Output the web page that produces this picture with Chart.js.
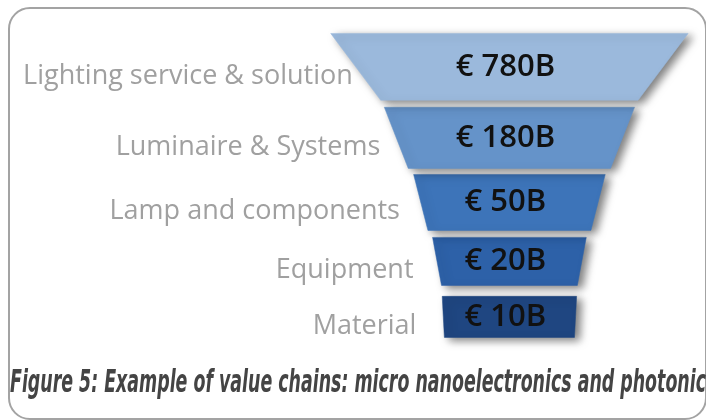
<!DOCTYPE html>
<html lang="en">
<head>
    <meta charset="UTF-8" />
    <title>Value chain funnel</title>
    <style>
        html, body { margin: 0; padding: 0; background: #fff; overflow: hidden; }
        .frame {
            position: absolute;
            left: 8px; top: 7px;
            width: 695px; height: 409px;
            border: 2px solid #a3a3a3;
            border-radius: 22px;
        }
        .chart-container {
            position: absolute;
            left: 0; top: 0;
            width: 706px; height: 420px;
        }
    </style>
</head>
<body>
    <div class="frame"></div>
    <div class="chart-container">
        <canvas id="funnelChart"></canvas>
    </div>

    <script src="https://cdn.jsdelivr.net/npm/chart.js"></script>
    <script>
        // funnel stages, top to bottom
        const stages = ['Lighting service & solution', 'Luminaire & Systems', 'Lamp and components', 'Equipment', 'Material'];
        // market size, € billions
        const marketValues = [780, 180, 50, 20, 10];
        // funnel profile: width of each stage (% of the funnel mouth) at its top and bottom edge
        const widthTop = [100, 70, 53.6, 43, 37.6];
        const widthBottom = [72, 56.6, 45.6, 38, 36.4];
        // funnel profile: depth of each stage's top and bottom edge (% of funnel height)
        const depthTop = [0, 24.3, 46.4, 67.1, 86.5];
        const depthBottom = [22, 44.4, 64.8, 82.9, 100];

        const caption = 'Figure 5: Example of value chains: micro nanoelectronics and photonic';
        const stageColors = ['#9bb9dc', '#6593c9', '#3d74b9', '#2d61a8', '#1f4681'];

        const labelFont = '27px "Open Sans"';
        const valueFont = '600 31px "Open Sans"';
        const captionFont = 'italic bold 32px "Liberation Sans Narrow", "DejaVu Sans Condensed", "Open Sans"';

        const datasets = stages.map((name, i) => {
            const t = widthTop[i] / 2, b = widthBottom[i] / 2;
            return {
                label: name,
                data: [
                    { x: -t, y: depthTop[i] },
                    { x: t, y: depthTop[i] },
                    { x: b, y: depthBottom[i] },
                    { x: -b, y: depthBottom[i] },
                    { x: -t, y: depthTop[i] }
                ],
                showLine: true,
                fill: 'shape',
                backgroundColor: stageColors[i],
                borderColor: stageColors[i],
                borderWidth: 0.5,
                pointRadius: 0,
                tension: 0,
                clip: false
            };
        });

        // soft drop shadow under the funnel pieces
        const shadowPlugin = {
            id: 'shadow',
            beforeDatasetsDraw(chart) {
                const ctx = chart.ctx;
                ctx.save();
                ctx.shadowColor = 'rgba(0,0,0,0.5)';
                ctx.shadowBlur = 8;
                ctx.shadowOffsetX = 5;
                ctx.shadowOffsetY = 3;
            },
            afterDatasetsDraw(chart) {
                chart.ctx.restore();
            }
        };

        // stage names on the left, values inside, caption at the bottom
        const textPlugin = {
            id: 'funnelText',
            afterDraw(chart) {
                const ctx = chart.ctx;
                const xs = chart.scales.x, ys = chart.scales.y;
                ctx.save();
                stages.forEach((name, i) => {
                    const yMid = (ys.getPixelForValue(depthTop[i]) + ys.getPixelForValue(depthBottom[i])) / 2;
                    const xLeft = xs.getPixelForValue(-widthBottom[i] / 2);

                    ctx.font = labelFont;
                    ctx.fillStyle = '#a0a0a0';
                    ctx.textAlign = 'right';
                    ctx.textBaseline = 'alphabetic';
                    ctx.fillText(name, xLeft - 28, yMid + 17);

                    ctx.font = valueFont;
                    ctx.fillStyle = '#111';
                    ctx.textAlign = 'center';
                    ctx.textBaseline = 'middle';
                    ctx.fillText('€ ' + marketValues[i] + 'B', xs.getPixelForValue(0) - 4, yMid);
                });

                ctx.font = captionFont;
                ctx.fillStyle = '#444';
                ctx.textAlign = 'left';
                ctx.textBaseline = 'alphabetic';
                ctx.fillText(caption, 10, 392, 696);
                ctx.restore();
            }
        };

        function drawChart() {
            const ctx = document.getElementById('funnelChart').getContext('2d');
            new Chart(ctx, {
                type: 'scatter',
                data: { datasets: datasets },
                options: {
                    responsive: true,
                    maintainAspectRatio: false,
                    animation: false,
                    layout: { padding: { left: 152, right: 0, top: 3, bottom: 37 } },
                    scales: {
                        x: { type: 'linear', min: -100, max: 55, display: false },
                        y: { type: 'linear', min: -10, max: 115, reverse: true, display: false }
                    },
                    plugins: {
                        legend: { display: false },
                        tooltip: { enabled: false }
                    }
                },
                plugins: [shadowPlugin, textPlugin]
            });
        }

        Promise.all([labelFont, valueFont, captionFont].map(f => document.fonts.load(f, '€ABC')))
            .catch(() => {})
            .then(drawChart);
    </script>
</body>
</html>
